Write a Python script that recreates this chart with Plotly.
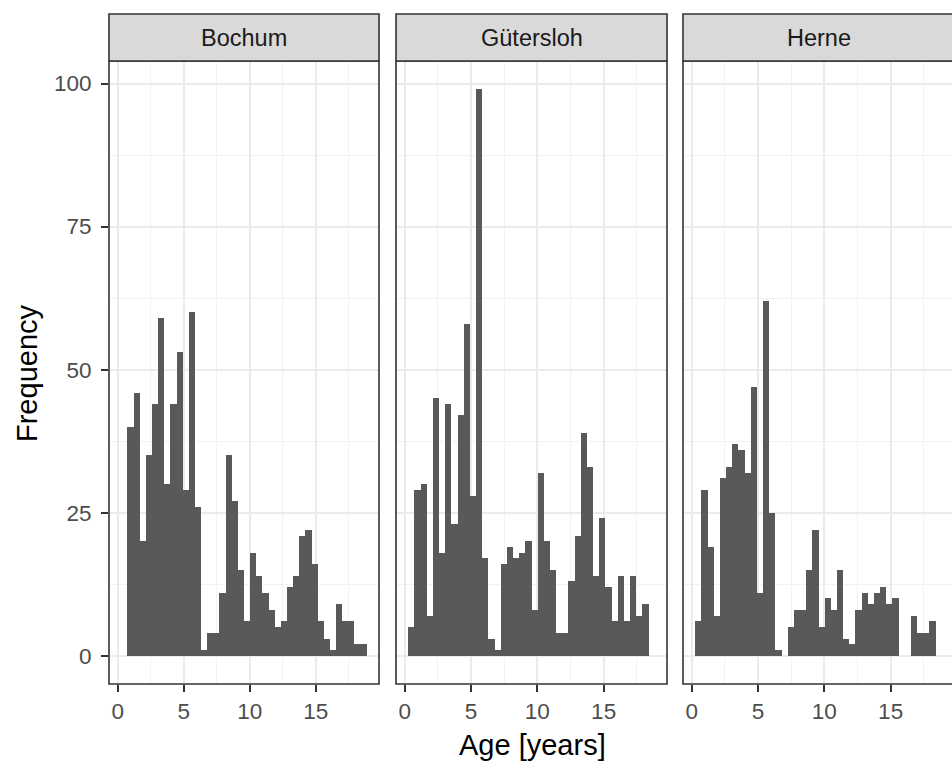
import plotly.graph_objects as go

# ---------------- data ----------------
cities = ["Bochum", "Gütersloh", "Herne"]
bin_left = 0.27      # left edge of first histogram bin (years)
bin_width = 0.4645   # histogram bin width (years)
counts_bochum = [0, 40, 46, 20, 35, 44, 59, 30, 44, 53, 29, 60, 26, 1, 4, 4, 11, 35, 27, 15,
                 6, 18, 14, 11, 8, 5, 6, 12, 14, 21, 22, 16, 6, 3, 1, 9, 6, 6, 2, 2]
counts_guetersloh = [5, 29, 30, 7, 45, 18, 44, 23, 42, 58, 28, 99, 17, 3, 1, 16, 19, 17, 18, 20,
                     8, 32, 20, 15, 4, 4, 13, 21, 39, 33, 14, 24, 12, 6, 14, 6, 14, 7, 9, 0]
counts_herne = [6, 29, 19, 7, 31, 33, 37, 36, 32, 47, 11, 62, 25, 1, 0, 5, 8, 8, 15, 22,
                5, 10, 8, 15, 3, 2, 8, 11, 9, 11, 12, 9, 10, 0, 0, 7, 4, 4, 6, 0]
x_ticks = [0, 5, 10, 15]
y_ticks = [0, 25, 50, 75, 100]
x_title = "Age [years]"
y_title = "Frequency"

all_counts = [counts_bochum, counts_guetersloh, counts_herne]

# ---------------- layout helpers ----------------
W, H = 952, 763
FONT = "Liberation Sans, Arial, Helvetica, sans-serif"
TICK_SIZE = 22.5
STRIP_SIZE = 23.5
TITLE_SIZE = 29
px_x = lambda p: p / W
px_y = lambda p: 1 - p / H

panels_px = [(109, 379), (396, 667), (683, 954)]
panel_top, panel_bot = 61, 684
strip_top = 14

n = len(counts_bochum)
centers = [bin_left + (i + 0.5) * bin_width for i in range(n)]
x_lo = bin_left - 0.05 * n * bin_width
x_hi = bin_left + n * bin_width + 0.05 * n * bin_width
ymax = max(max(c) for c in all_counts)
y_rng = [-0.05 * ymax, ymax * 1.05]

fig = go.Figure()
shapes = []
annotations = []
for k, (city, cnt) in enumerate(zip(cities, all_counts)):
    sfx = "" if k == 0 else str(k + 1)
    fig.add_trace(go.Bar(
        x=centers, y=cnt, width=[bin_width] * n,
        marker=dict(color="#595959", line=dict(width=0)),
        xaxis="x" + sfx, yaxis="y" + sfx, showlegend=False,
        hovertemplate=city + ": %{y}<extra></extra>",
    ))
    x0p, x1p = panels_px[k]
    d1 = min(x1p, W)
    span = x_hi - x_lo
    r_hi = x_lo + span * (d1 - x0p) / (x1p - x0p)
    fig.update_layout(**{
        "xaxis" + sfx: dict(
            domain=[px_x(x0p), px_x(d1)], range=[x_lo, r_hi], anchor="y" + sfx,
            tickvals=x_ticks, ticks="outside", ticklen=7, tickwidth=1.6, tickcolor="#333333",
            tickfont=dict(family=FONT, size=TICK_SIZE, color="#4D4D4D"),
            showgrid=True, gridcolor="#EBEBEB", gridwidth=1.6,
            minor=dict(dtick=2.5, tick0=0, showgrid=True, gridcolor="#F2F2F2", gridwidth=0.9),
            zeroline=False, showline=False, fixedrange=True,
        ),
        "yaxis" + sfx: dict(
            domain=[px_y(panel_bot), px_y(panel_top)], range=y_rng, anchor="x" + sfx,
            tickvals=y_ticks, ticks="outside" if k == 0 else "", ticklen=7, tickwidth=1.6,
            tickcolor="#333333", showticklabels=(k == 0), ticklabelstandoff=5,
            tickfont=dict(family=FONT, size=TICK_SIZE, color="#4D4D4D"),
            showgrid=True, gridcolor="#EBEBEB", gridwidth=1.6,
            minor=dict(dtick=12.5, tick0=0, showgrid=True, gridcolor="#F2F2F2", gridwidth=0.9),
            zeroline=False, showline=False, fixedrange=True,
            **({} if k == 0 else {"matches": "y"}),
        ),
    })
    shapes.append(dict(type="rect", xref="paper", yref="paper",
                       x0=px_x(x0p), x1=px_x(x1p), y0=px_y(panel_bot), y1=px_y(panel_top),
                       line=dict(color="#333333", width=1.6), fillcolor="rgba(0,0,0,0)",
                       layer="above"))
    shapes.append(dict(type="rect", xref="paper", yref="paper",
                       x0=px_x(x0p), x1=px_x(x1p), y0=px_y(panel_top), y1=px_y(strip_top),
                       line=dict(color="#333333", width=1.6), fillcolor="#D9D9D9",
                       layer="above"))
    annotations.append(dict(text=city, xref="paper", yref="paper",
                            x=px_x((x0p + x1p) / 2), y=px_y((strip_top + panel_top) / 2),
                            xanchor="center", yanchor="middle", showarrow=False,
                            font=dict(family=FONT, size=STRIP_SIZE, color="#1A1A1A")))

annotations.append(dict(text=x_title, xref="paper", yref="paper",
                        x=px_x(532), y=px_y(745), xanchor="center", yanchor="middle",
                        showarrow=False, font=dict(family=FONT, size=TITLE_SIZE, color="black")))
annotations.append(dict(text=y_title, xref="paper", yref="paper",
                        x=px_x(27), y=px_y(373), xanchor="center", yanchor="middle",
                        textangle=-90, showarrow=False,
                        font=dict(family=FONT, size=TITLE_SIZE, color="black")))

fig.update_layout(
    width=W, height=H, margin=dict(l=0, r=0, t=0, b=0),
    paper_bgcolor="white", plot_bgcolor="white",
    shapes=shapes, annotations=annotations, bargap=0,
    font=dict(family=FONT),
)

fig.write_html("out.html", config={"displayModeBar": False})
